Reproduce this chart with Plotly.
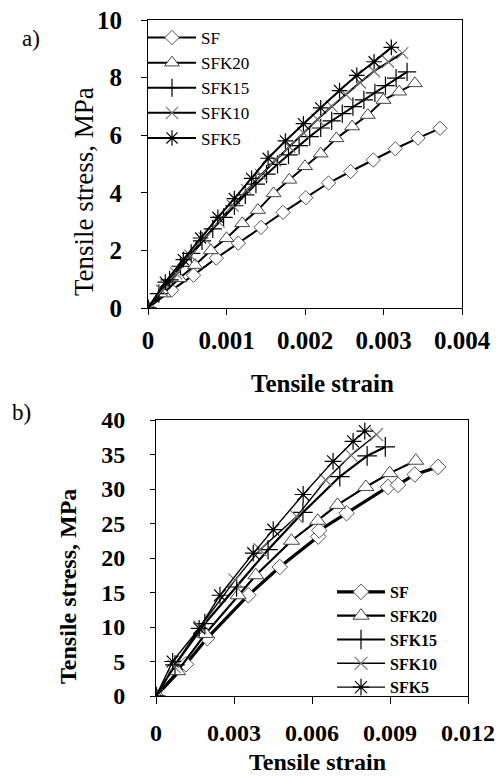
import plotly.graph_objects as go

W, H = 499, 776
FONT = "Liberation Serif, Times New Roman, serif"

# ---------------- data: panel a ----------------
a_SF_strain = [0, 0.0003, 0.00058, 0.00087, 0.00115, 0.00144, 0.00172, 0.00201, 0.0023, 0.00258, 0.00287, 0.00315, 0.00344, 0.00372]
a_SF_stress = [0, 0.62, 1.14, 1.73, 2.25, 2.80, 3.32, 3.83, 4.34, 4.74, 5.14, 5.53, 5.90, 6.24]

a_SFK20_strain = [0, 0.0002, 0.0004, 0.0006, 0.0008, 0.001, 0.0012, 0.0014, 0.0016, 0.0018, 0.002, 0.0022, 0.0024, 0.0026, 0.0028, 0.003, 0.0032, 0.0034]
a_SFK20_stress = [0, 0.5, 1.03, 1.49, 2.0, 2.42, 2.94, 3.40, 3.98, 4.45, 4.92, 5.36, 5.89, 6.30, 6.70, 7.22, 7.51, 7.80]

a_SFK15_strain = [0, 0.000138, 0.000275, 0.000413, 0.00055, 0.000688, 0.000825, 0.000963, 0.0011, 0.00124, 0.001375, 0.00151,
                  0.00165, 0.00179, 0.001925, 0.00206, 0.0022, 0.00234, 0.002475, 0.00261, 0.00275, 0.00289, 0.003025, 0.00316, 0.0033]
a_SFK15_stress = [0, 0.5, 0.98, 1.45, 1.9, 2.33, 2.75, 3.15, 3.55, 3.93, 4.3, 4.65,
                  4.99, 5.32, 5.64, 5.95, 6.25, 6.5, 6.75, 6.99, 7.23, 7.47, 7.72, 7.98, 8.2]

a_SFK10_strain = [0, 0.00018, 0.00036, 0.00054, 0.00072, 0.0009, 0.00108, 0.00126, 0.00144, 0.00162, 0.0018, 0.00198,
                  0.00216, 0.00234, 0.00252, 0.0027, 0.00288, 0.00306, 0.00324]
a_SFK10_stress = [0, 0.6, 1.2, 1.82, 2.42, 3.0, 3.55, 4.1, 4.62, 5.12, 5.6, 6.08,
                  6.55, 7.0, 7.42, 7.83, 8.22, 8.55, 8.85]

a_SFK5_strain = [0, 0.00022, 0.00045, 0.00067, 0.00089, 0.0011, 0.00132, 0.00153, 0.00175, 0.00198, 0.0022, 0.00244, 0.00266, 0.00288, 0.0031]
a_SFK5_stress = [0, 0.9, 1.68, 2.43, 3.15, 3.8, 4.5, 5.2, 5.8, 6.4, 6.95, 7.55, 8.08, 8.55, 9.05]

# ---------------- data: panel b ----------------
b_SF_strain = [0, 0.00115, 0.00197, 0.00355, 0.00476, 0.00624, 0.00628, 0.00733, 0.00892, 0.00931, 0.00995, 0.01085]
b_SF_stress = [0, 4.6, 8.4, 14.6, 18.7, 23.1, 24.0, 26.5, 30.3, 30.6, 32.1, 33.2]

b_SFK20_strain = [0, 0.00083, 0.0019, 0.00316, 0.00384, 0.00521, 0.00622, 0.00698, 0.00807, 0.00899, 0.00999]
b_SFK20_stress = [0, 3.6, 9.0, 14.6, 17.5, 22.5, 25.4, 27.7, 30.3, 32.3, 34.1]

b_SFK15_strain = [0, 0.00073, 0.00188, 0.0031, 0.00431, 0.00565, 0.00707, 0.00812, 0.00882]
b_SFK15_stress = [0, 4.5, 10.5, 15.8, 21.2, 26.6, 31.8, 34.8, 36.1]

b_SFK10_strain = [0, 0.0007, 0.00169, 0.00304, 0.004, 0.00541, 0.00653, 0.0075, 0.00848]
b_SFK10_stress = [0, 4.3, 10.0, 16.8, 21.2, 26.0, 31.3, 34.9, 37.9]

b_SFK5_strain = [0, 0.00064, 0.00166, 0.00246, 0.00374, 0.00451, 0.00566, 0.00681, 0.00758, 0.00803]
b_SFK5_stress = [0, 5.0, 9.8, 14.6, 20.7, 24.1, 29.2, 34.0, 36.9, 38.4]

names = ["SF", "SFK20", "SFK15", "SFK10", "SFK5"]
a_data = [(a_SF_strain, a_SF_stress), (a_SFK20_strain, a_SFK20_stress), (a_SFK15_strain, a_SFK15_stress),
          (a_SFK10_strain, a_SFK10_stress), (a_SFK5_strain, a_SFK5_stress)]
b_data = [(b_SF_strain, b_SF_stress), (b_SFK20_strain, b_SFK20_stress), (b_SFK15_strain, b_SFK15_stress),
          (b_SFK10_strain, b_SFK10_stress), (b_SFK5_strain, b_SFK5_stress)]

# marker styles
styles = [
    dict(symbol="diamond", size=11, color="white", line=dict(color="#555555", width=1)),
    dict(symbol="triangle-up", size=13, color="white", line=dict(color="#444444", width=1)),
    dict(symbol="cross-thin", size=13, color="black", line=dict(color="black", width=1.2)),
    dict(symbol="x-thin", size=12, color="#777777", line=dict(color="#777777", width=1.2)),
    dict(symbol="asterisk", size=13, color="black", line=dict(color="black", width=1.2)),
]
a_lw = [2, 2, 2, 2, 2]
b_lw = [3.2, 2.2, 2.2, 1.4, 1.4]

fig = go.Figure()
for i, (nm, (xs, ys)) in enumerate(zip(names, a_data)):
    fig.add_trace(go.Scatter(x=xs, y=ys, name=nm, mode="lines+markers",
                             line=dict(color="black", width=a_lw[i]),
                             marker=styles[i], xaxis="x", yaxis="y", legend="legend"))
for i, (nm, (xs, ys)) in enumerate(zip(names, b_data)):
    st = dict(styles[i])
    st["size"] = st["size"] + 1
    fig.add_trace(go.Scatter(x=xs, y=ys, name=nm, mode="lines+markers",
                             line=dict(color="black", width=b_lw[i]),
                             marker=st, xaxis="x2", yaxis="y2", legend="legend2"))

def px_x(p):
    return p / W

def px_y(p):
    return 1 - p / H

axis_common = dict(showline=True, linecolor="black", linewidth=1, mirror=True, showgrid=False,
                   zeroline=False, ticks="outside", tickcolor="black", tickwidth=1, automargin=False)

fig.update_layout(
    width=W, height=H, autosize=False,
    margin=dict(l=0, r=0, t=0, b=0, pad=0),
    paper_bgcolor="white", plot_bgcolor="white",
    font=dict(family=FONT, color="black"),
    xaxis=dict(domain=[px_x(148), px_x(462)], range=[0, 0.004], dtick=0.001, tick0=0,
               anchor="y", ticklen=6, ticklabelstandoff=4,
               tickfont=dict(family=FONT, size=25, weight="bold"), **axis_common),
    yaxis=dict(domain=[px_y(308), px_y(20)], range=[0, 10], dtick=2, tick0=0,
               anchor="x", ticklen=6, ticklabelstandoff=14,
               tickfont=dict(family=FONT, size=25, weight="bold"), **axis_common),
    xaxis2=dict(domain=[px_x(156), px_x(468)], range=[0, 0.012], dtick=0.003, tick0=0,
                anchor="y2", ticklen=7, ticklabelstandoff=8,
                tickfont=dict(family=FONT, size=24, weight="bold"), **axis_common),
    yaxis2=dict(domain=[px_y(696), px_y(420)], range=[0, 40], dtick=5, tick0=0,
                anchor="x2", ticklen=5, ticklabelstandoff=20,
                tickfont=dict(family=FONT, size=24, weight="bold"), **axis_common),
    legend=dict(x=px_x(143), y=px_y(20), xanchor="left", yanchor="top",
                bgcolor="rgba(0,0,0,0)", borderwidth=0, itemwidth=48, tracegroupgap=0,
                font=dict(family=FONT, size=17, color="black"), itemclick=False),
    legend2=dict(x=px_x(332), y=px_y(575), xanchor="left", yanchor="top",
                 bgcolor="rgba(0,0,0,0)", borderwidth=0, itemwidth=48, tracegroupgap=0,
                 font=dict(family=FONT, size=16, weight="bold", color="black"), itemclick=False),
)

annos = [
    dict(text="a)", x=px_x(31), y=px_y(38), font=dict(size=23)),
    dict(text="b)", x=px_x(21), y=px_y(412), font=dict(size=23)),
    dict(text="Tensile stress, MPa", x=px_x(84), y=px_y(192), textangle=-90, font=dict(size=27)),
    dict(text="<b>Tensile strain</b>", x=px_x(322), y=px_y(383), font=dict(size=25)),
    dict(text="<b>Tensile stress, MPa</b>", x=px_x(68), y=px_y(587), textangle=-90, font=dict(size=24)),
    dict(text="<b>Tensile strain</b>", x=px_x(317), y=px_y(762), font=dict(size=24)),
]
for a in annos:
    a["font"]["family"] = FONT
    a["font"]["color"] = "black"
    fig.add_annotation(xref="paper", yref="paper", xanchor="center", yanchor="middle",
                       showarrow=False, **a)

fig.write_html("out.html", config={"displayModeBar": False},
               post_script="document.body.style.margin='0';document.body.style.overflow='hidden';")
